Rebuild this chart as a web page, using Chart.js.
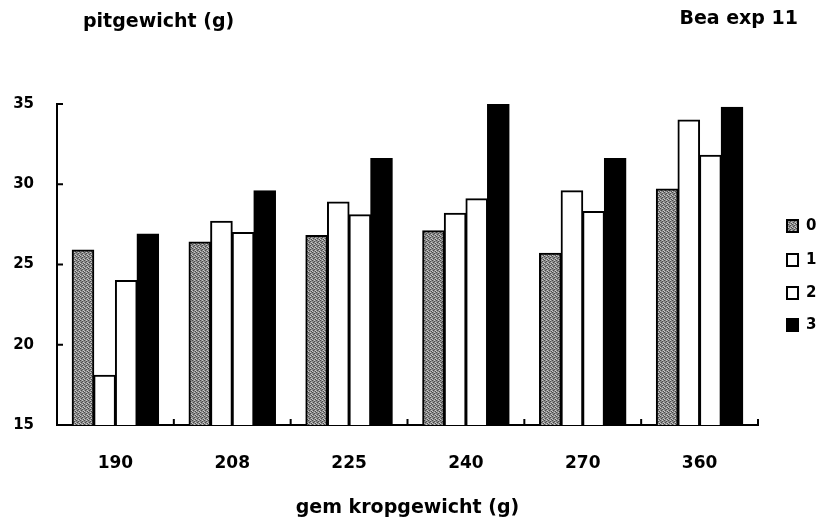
<!DOCTYPE html>
<html>
<head>
<meta charset="utf-8">
<script src="https://cdn.jsdelivr.net/npm/chart.js@4.4.1/dist/chart.umd.min.js"></script>
<style>
  html, body { margin: 0; padding: 0; background: #fff; }
  #wrap { width: 822px; height: 521px; }
</style>
</head>
<body>
<div id="wrap"><canvas id="chart" width="822" height="521"></canvas></div>
<script>
// data
const categories = ["190", "208", "225", "240", "270", "360"];
const series0 = [25.9, 26.4, 26.8, 27.1, 25.7, 29.7];
const series1 = [18.1, 27.7, 28.9, 28.2, 29.6, 34.0];
const series2 = [24.0, 27.0, 28.1, 29.1, 28.3, 31.8];
const series3 = [26.9, 29.6, 31.6, 35.0, 31.6, 34.8];
const seriesNames = ["0", "1", "2", "3"];
const yTicks = [15, 20, 25, 30, 35];

const FONT = "'DejaVu Sans', sans-serif";

// dithered grey like the scanned print
function greyPattern() {
    const c = document.createElement('canvas');
    c.width = 4; c.height = 4;
    const g = c.getContext('2d');
    g.fillStyle = '#8c8c8c';
    g.fillRect(0, 0, 4, 4);
    g.fillStyle = '#4a4a4a';
    g.fillRect(0, 0, 1, 1); g.fillRect(2, 1, 1, 1); g.fillRect(1, 2, 1, 1); g.fillRect(3, 3, 1, 1);
    g.fillStyle = '#c8c8c8';
    g.fillRect(2, 0, 1, 1); g.fillRect(0, 3, 1, 1); g.fillRect(3, 2, 1, 1);
    return g.createPattern(c, 'repeat');
}

// free text at the top corners
const cornerText = {
    id: 'cornerText',
    afterDraw(chart) {
        const ctx = chart.ctx;
        ctx.save();
        ctx.fillStyle = '#000';
        ctx.font = "bold 19px " + FONT;
        ctx.textBaseline = 'alphabetic';
        ctx.textAlign = 'left';
        ctx.fillText('pitgewicht (g)', 83, 27);
        ctx.textAlign = 'right';
        ctx.fillText('Bea exp 11', 798, 24);
        ctx.restore();
    }
};

// small inward tick marks on both axes
const innerTicks = {
    id: 'innerTicks',
    afterDatasetsDraw(chart) {
        const ctx = chart.ctx;
        const x = chart.scales.x, y = chart.scales.y;
        ctx.save();
        ctx.strokeStyle = '#000';
        ctx.lineWidth = 2;
        ctx.beginPath();
        yTicks.forEach(v => {
            const py = y.getPixelForValue(v);
            ctx.moveTo(x.left, py);
            ctx.lineTo(x.left + 6, py);
        });
        for (let i = 1; i <= categories.length; i++) {
            const px = x.left + (x.right - x.left) * i / categories.length;
            ctx.moveTo(px, y.bottom);
            ctx.lineTo(px, y.bottom - 6);
        }
        ctx.stroke();
        ctx.restore();
    }
};

// legend to the right of the plot
const sideLegend = {
    id: 'sideLegend',
    afterDraw(chart) {
        const ctx = chart.ctx;
        const rowY = [226, 260, 293, 325];
        ctx.save();
        ctx.font = "bold 15px " + FONT;
        ctx.textBaseline = 'middle';
        ctx.textAlign = 'left';
        chart.data.datasets.forEach((ds, i) => {
            const cy = rowY[i];
            ctx.fillStyle = ds.backgroundColor;
            ctx.fillRect(787, cy - 6, 11, 12);
            ctx.strokeStyle = '#000';
            ctx.lineWidth = 2;
            ctx.strokeRect(787, cy - 6, 11, 12);
            ctx.fillStyle = '#000';
            ctx.fillText(ds.label, 806, cy);
        });
        ctx.restore();
    }
};

const grey = greyPattern();
const fills = [grey, '#ffffff', '#ffffff', '#000000'];
const allSeries = [series0, series1, series2, series3];

new Chart(document.getElementById('chart'), {
    type: 'bar',
    data: {
        labels: categories,
        datasets: allSeries.map((s, i) => ({
            label: seriesNames[i],
            data: s,
            backgroundColor: fills[i],
            borderColor: '#000',
            borderWidth: 2,
            borderSkipped: 'bottom',
            inflateAmount: 0.5,
            categoryPercentage: 0.74,
            barPercentage: 1.0
        }))
    },
    options: {
        responsive: false,
        animation: false,
        layout: { padding: { top: 104, right: 64, bottom: 0, left: 0 } },
        plugins: {
            legend: { display: false },
            tooltip: { enabled: false }
        },
        scales: {
            x: {
                afterFit(scale) { scale.height = 96; },
                grid: { display: false, drawTicks: false },
                border: { display: true, color: '#000', width: 2 },
                ticks: { color: '#000', padding: 28, font: { family: FONT, size: 17, weight: 'bold' } },
                title: {
                    display: true,
                    text: 'gem kropgewicht (g)',
                    color: '#000',
                    padding: { top: 0, bottom: 2 },
                    font: { family: FONT, size: 19, weight: 'bold' }
                }
            },
            y: {
                min: 15,
                max: 35,
                afterFit(scale) { scale.width = 57; },
                afterBuildTicks(scale) { scale.ticks = yTicks.map(v => ({ value: v })); },
                grid: { display: false, drawTicks: false },
                border: { display: true, color: '#000', width: 2 },
                ticks: { color: '#000', padding: 23, font: { family: FONT, size: 15, weight: 'bold' } }
            }
        }
    },
    plugins: [cornerText, innerTicks, sideLegend]
});
</script>
</body>
</html>
